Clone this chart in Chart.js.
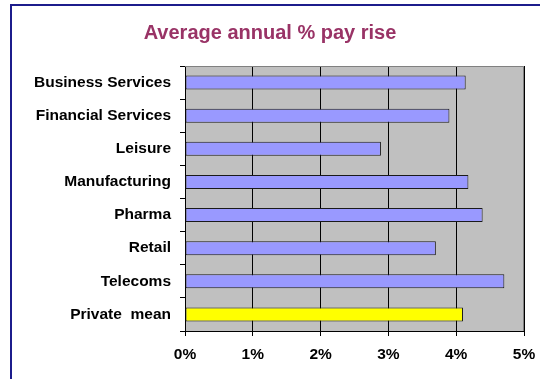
<!DOCTYPE html>
<html>
<head>
<meta charset="utf-8">
<script src="https://cdn.jsdelivr.net/npm/chart.js@4/dist/chart.umd.min.js"></script>
<style>
  html, body { margin: 0; padding: 0; background: #fff; }
  #wrap { width: 540px; height: 379px; position: relative; }
</style>
</head>
<body>
<div id="wrap"><canvas id="c" width="540" height="379"></canvas></div>
<script>
// Sectors and their average annual pay rise (%)
const sectors = ['Business Services', 'Financial Services', 'Leisure', 'Manufacturing',
                 'Pharma', 'Retail', 'Telecoms', 'Private  mean'];
const payRise = [4.14, 3.90, 2.89, 4.18, 4.39, 3.70, 4.71, 4.10];
const barColours = ['#9999FF', '#9999FF', '#9999FF', '#9999FF',
                    '#9999FF', '#9999FF', '#9999FF', '#FFFF00'];
const xTicks = [0, 1, 2, 3, 4, 5];

const FONT = "'Liberation Sans', Arial, sans-serif";

// Grey plot background, frame around plot and the outer chart border
const framePlugin = {
  id: 'frame',
  beforeDraw(chart) {
    const { ctx, chartArea: a } = chart;
    ctx.save();
    ctx.fillStyle = '#C0C0C0';
    ctx.fillRect(a.left, a.top, a.right - a.left, a.bottom - a.top);
    ctx.restore();
  },
  afterDraw(chart) {
    const { ctx, chartArea: a } = chart;
    ctx.save();
    ctx.strokeStyle = '#808080';
    ctx.lineWidth = 1;
    ctx.beginPath();
    ctx.moveTo(a.left, a.top + 0.5);
    ctx.lineTo(a.right - 0.5, a.top + 0.5);
    ctx.lineTo(a.right - 0.5, a.bottom);
    ctx.stroke();
    // outer border (top and left edges)
    ctx.strokeStyle = '#1c1c8c';
    ctx.lineWidth = 2;
    ctx.beginPath();
    ctx.moveTo(11, 379);
    ctx.lineTo(11, 5);
    ctx.lineTo(540, 5);
    ctx.stroke();
    ctx.restore();
  }
};

new Chart(document.getElementById('c'), {
  type: 'bar',
  data: {
    labels: sectors,
    datasets: [{
      data: payRise,
      backgroundColor: barColours,
      borderColor: '#1a1a1a',
      borderWidth: 1,
      borderSkipped: false,
      barPercentage: 0.42,
      categoryPercentage: 1
    }]
  },
  options: {
    indexAxis: 'y',
    responsive: false,
    animation: false,
    layout: { padding: { top: 21, right: 16, bottom: 0, left: 16 } },
    plugins: {
      legend: { display: false },
      tooltip: { enabled: false },
      title: {
        display: true,
        text: 'Average annual % pay rise',
        color: '#993366',
        font: { family: FONT, size: 20, weight: 'bold' },
        padding: { top: 0, bottom: 21 }
      }
    },
    scales: {
      x: {
        min: 0,
        max: 5,
        afterBuildTicks(scale) { scale.ticks = xTicks.map(v => ({ value: v })); },
        afterFit(scale) {
          scale.height = 48;
          scale.paddingLeft = 0;
          scale.paddingRight = 0;
        },
        ticks: {
          color: '#000',
          font: { family: FONT, size: 15.5, weight: 'bold' },
          padding: 9,
          callback: v => v + '%'
        },
        grid: { color: '#000', lineWidth: 1, tickLength: 5, drawOnChartArea: true },
        border: { color: '#000', width: 1 }
      },
      y: {
        afterFit(scale) { scale.width = 169; },
        ticks: {
          color: '#000',
          font: { family: FONT, size: 15.5, weight: 'bold' },
          padding: 9
        },
        grid: { color: '#000', drawOnChartArea: false, tickLength: 5, offset: true },
        border: { color: '#000', width: 1 }
      }
    }
  },
  plugins: [framePlugin]
});
</script>
</body>
</html>
